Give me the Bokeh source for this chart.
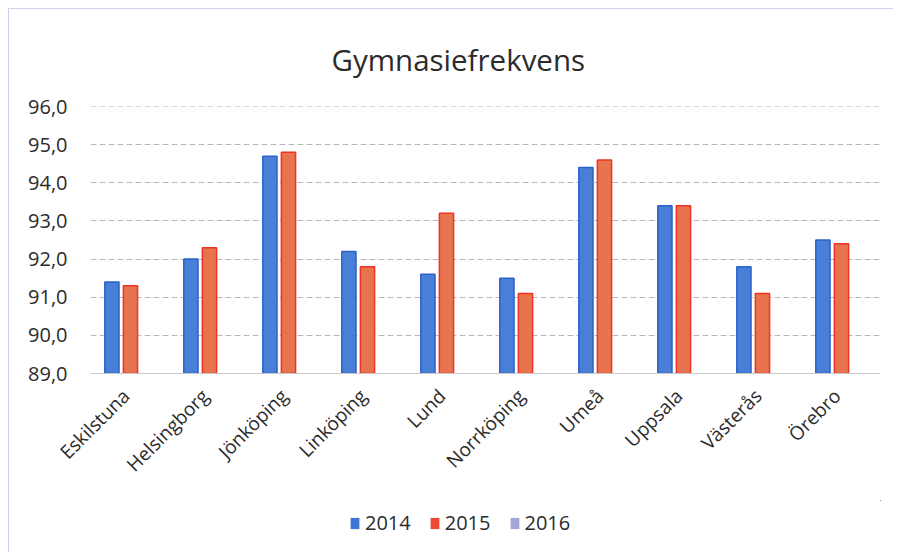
from bokeh.plotting import figure
from bokeh.layouts import column
from bokeh.models import ColumnDataSource, FixedTicker, Legend, LegendItem, Range1d
from bokeh.transform import dodge
from bokeh.embed import file_html
from bokeh.resources import INLINE

nan = float("nan")
cities = ["Eskilstuna", "Helsingborg", "Jönköping", "Linköping", "Lund",
          "Norrköping", "Umeå", "Uppsala", "Västerås", "Örebro"]
v2014 = [91.4, 92.0, 94.7, 92.2, 91.6, 91.5, 94.4, 93.4, 91.8, 92.5]
v2015 = [91.3, 92.3, 94.8, 91.8, 93.2, 91.1, 94.6, 93.4, 91.1, 92.4]
v2016 = [nan, nan, nan, nan, nan, nan, nan, nan, nan, nan]  # no 2016 values in the chart
series = ["2014", "2015", "2016"]
y_ticks = [89, 90, 91, 92, 93, 94, 95, 96]
y_tick_labels = ["89,0", "90,0", "91,0", "92,0", "93,0", "94,0", "95,0", "96,0"]
title_text = "Gymnasiefrekvens"

FONT = "Open Sans"
TXT = "#2b2b2b"
FILLS = ["#4a7fd8", "#e8744f", "#a4a6d6"]
LINES = ["#2a62cc", "#ee3322", "#9296cc"]
SWATCH = ["#3f74d4", "#ee4a32", "#a4a6d6"]

pos = list(range(len(cities)))
base = 89
shift = -0.055         # where the category label anchor sits relative to the 2015 bar
bar_w, step = 0.18, 0.235
x_start = -shift - 0.506

src = ColumnDataSource(data=dict(pos=pos, city=cities, v2014=v2014, v2015=v2015, v2016=v2016))

p = figure(width=884, height=491, x_range=Range1d(x_start, x_start + len(cities)),
           y_range=Range1d(base, 96.002),
           output_backend="svg", toolbar_location=None,
           min_border_left=81, min_border_right=13, min_border_top=97, min_border_bottom=127)

p.title.text = title_text
p.title.align = "left"
p.title.offset = 241
p.title.text_font = FONT
p.title.text_font_size = "29.5px"
p.title.text_font_style = "normal"
p.title.text_color = TXT
p.title.standoff = 54

offsets = [-shift - step, -shift, -shift + step]
cols = ["v2014", "v2015", "v2016"]
for c, off, fc, lc in zip(cols, offsets, FILLS, LINES):
    p.vbar(x=dodge("pos", off), top=c, bottom=base, width=bar_w, source=src,
           fill_color=fc, line_color=lc, line_width=1.5)

p.outline_line_color = None
p.xgrid.grid_line_color = None
p.ygrid.grid_line_color = "#b8b8b8"
p.ygrid.grid_line_dash = "6 3"
p.ygrid.grid_line_width = 1

p.yaxis.ticker = FixedTicker(ticks=y_ticks)
p.yaxis.major_label_overrides = {t: l for t, l in zip(y_ticks, y_tick_labels)}
p.yaxis.axis_line_color = None
p.yaxis.major_tick_line_color = None
p.yaxis.minor_tick_line_color = None
p.yaxis.major_label_standoff = 17
p.yaxis.major_label_text_font = FONT
p.yaxis.major_label_text_font_size = "20px"
p.yaxis.major_label_text_color = TXT

p.xaxis.ticker = FixedTicker(ticks=pos)
p.xaxis.major_label_overrides = {i: c for i, c in zip(pos, cities)}
p.xaxis.axis_line_color = "#c8c8c8"
p.xaxis.major_tick_line_color = None
p.xaxis.minor_tick_line_color = None
p.xaxis.major_label_orientation = 0.785398
p.xaxis.major_label_standoff = 13
p.xaxis.major_label_text_font = FONT
p.xaxis.major_label_text_font_size = "19px"
p.xaxis.major_label_text_color = TXT

# legend strip below the chart (proxy renderers lie outside its view)
pl = figure(width=884, height=52, x_range=Range1d(-3, -2), y_range=Range1d(0, 1),
            output_backend="svg", toolbar_location=None,
            min_border_left=0, min_border_right=0, min_border_top=0, min_border_bottom=0)
pl.axis.visible = False
pl.grid.visible = False
pl.outline_line_color = None
items = []
for name, c, sc in zip(series, cols, SWATCH):
    r = pl.vbar(x="pos", top=c, bottom=base, width=bar_w, source=src,
                fill_color=sc, line_color=None)
    items.append(LegendItem(label=name, renderers=[r]))
legend = Legend(items=items, orientation="horizontal", location=(259, 16),
                label_text_font=FONT, label_text_font_size="20px", label_text_color=TXT,
                glyph_width=11, glyph_height=14, label_standoff=5, spacing=18,
                padding=0, margin=0, border_line_color=None, background_fill_alpha=0)
pl.add_layout(legend, "center")

layout = column(p, pl, spacing=0,
                styles={"margin-left": "8px", "margin-top": "8px",
                        "border-left": "1px solid #cfcff2", "border-top": "1px solid #cfcff2"})

open("out.html", "w").write(file_html(layout, INLINE))
